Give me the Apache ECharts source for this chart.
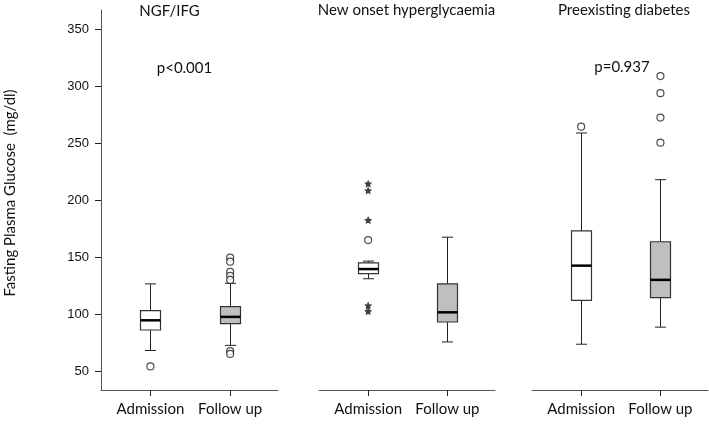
<!DOCTYPE html>
<html>
<head>
<meta charset="utf-8">
<script src="https://cdn.jsdelivr.net/npm/echarts@6/dist/echarts.min.js"></script>
<style>
html,body{margin:0;padding:0;background:#fff;}
#chart{width:709px;height:424px;}
</style>
</head>
<body>
<div id="chart"></div>
<script>
// ---- data ----
var categories = ['Admission', 'Follow up'];
var panelTitles = ['NGF/IFG', 'New onset hyperglycaemia', 'Preexisting diabetes'];
var pValues = ['p<0.001', '', 'p=0.937'];
var yTicks = [50, 100, 150, 200, 250, 300, 350];

// box stats: [lower whisker, Q1, median, Q3, upper whisker]
var ngfAdmission = [68, 86, 94.5, 103, 126.5];
var ngfFollowUp = [72.5, 91.5, 97.5, 106.5, 127];
var newAdmission = [131, 135.5, 139.5, 145, 146.5];
var newFollowUp = [75.5, 93, 101.5, 126.5, 167.5];
var preAdmission = [73.5, 112, 142.5, 173, 259];
var preFollowUp = [88.5, 114.5, 130, 163.5, 218];

// outliers (circles) and extremes (stars)
var ngfAdmissionOut = [54];
var ngfFollowUpOut = [149.5, 146, 137, 133.5, 130, 67.5, 65];
var newAdmissionOut = [165];
var newAdmissionExt = [214.5, 208.5, 182.5, 107.5, 102.5];
var newFollowUpOut = [];
var preAdmissionOut = [264.5];
var preFollowUpOut = [309, 294, 272.5, 250.5];

var panels = [
  {boxes: [ngfAdmission, ngfFollowUp], outs: [ngfAdmissionOut, ngfFollowUpOut], ext: [[], []]},
  {boxes: [newAdmission, newFollowUp], outs: [newAdmissionOut, newFollowUpOut], ext: [newAdmissionExt, []]},
  {boxes: [preAdmission, preFollowUp], outs: [preAdmissionOut, preFollowUpOut], ext: [[], []]}
];

// ---- layout ----
var gridBoxes = [
  {left: 101, top: 10, width: 177, height: 380},
  {left: 319, top: 10, width: 176, height: 380},
  {left: 532, top: 10, width: 176, height: 380}
];
var Y_MIN = 33.3, Y_MAX = 367;
var X_MIN = -0.62, X_MAX = 1.6;
var FONT = 'Lato';
var AXIS_COLOR = '#555';
var TICK_LEN = 6;

var star = 'path://M0,-10 L2.9,-4 9.5,-3.1 4.8,1.5 5.9,8.1 0,5 -5.9,8.1 -4.8,1.5 -9.5,-3.1 -2.9,-4 Z';

function renderBox(params, api) {
  var x = api.value(0);
  var lo = api.coord([x, api.value(1)]);
  var q1 = api.coord([x, api.value(2)]);
  var md = api.coord([x, api.value(3)]);
  var q3 = api.coord([x, api.value(4)]);
  var hi = api.coord([x, api.value(5)]);
  var gray = api.value(6) === 1;
  var bw = 20, cw = 11;
  var cx = Math.round(md[0]) + 0.5;
  var stroke = {stroke: '#222', lineWidth: 1};
  return {
    type: 'group',
    children: [
      {type: 'line', shape: {x1: cx, y1: hi[1], x2: cx, y2: q3[1]}, style: stroke},
      {type: 'line', shape: {x1: cx, y1: q1[1], x2: cx, y2: lo[1]}, style: stroke},
      {type: 'line', shape: {x1: cx - cw / 2, y1: hi[1], x2: cx + cw / 2, y2: hi[1]}, style: stroke},
      {type: 'line', shape: {x1: cx - cw / 2, y1: lo[1], x2: cx + cw / 2, y2: lo[1]}, style: stroke},
      {type: 'rect', shape: {x: cx - bw / 2, y: q3[1], width: bw, height: q1[1] - q3[1]},
        style: {fill: gray ? '#bfbfbf' : '#ffffff', stroke: '#333', lineWidth: 1.2}},
      {type: 'line', shape: {x1: cx - bw / 2, y1: md[1], x2: cx + bw / 2, y2: md[1]},
        style: {stroke: '#000', lineWidth: 2.5}}
    ]
  };
}

var grids = [], xAxes = [], yAxes = [], series = [];
panels.forEach(function (p, i) {
  grids.push(gridBoxes[i]);
  xAxes.push({
    type: 'value', gridIndex: i, min: X_MIN, max: X_MAX,
    axisLine: {show: true, onZero: false, lineStyle: {color: AXIS_COLOR, width: 1}},
    axisTick: {show: true, inside: false, customValues: [0, 1], length: TICK_LEN,
      lineStyle: {color: '#222', width: 1}},
    axisLabel: {show: true, customValues: [0, 1], margin: 12,
      formatter: function (v) { return categories[Math.round(v)]; },
      fontFamily: FONT, fontSize: 15, color: '#111'},
    splitLine: {show: false}
  });
  yAxes.push({
    type: 'value', gridIndex: i, min: Y_MIN, max: Y_MAX,
    show: i === 0,
    axisLine: {show: true, onZero: false, lineStyle: {color: AXIS_COLOR, width: 1}},
    axisTick: {show: true, inside: false, customValues: yTicks, length: TICK_LEN,
      lineStyle: {color: '#222', width: 1}},
    axisLabel: {show: true, customValues: yTicks, margin: 12,
      fontFamily: 'Liberation Sans', fontSize: 13, color: '#111'},
    splitLine: {show: false}
  });
  series.push({
    type: 'custom', xAxisIndex: i, yAxisIndex: i, clip: false,
    renderItem: renderBox,
    data: p.boxes.map(function (b, k) { return [k].concat(b).concat([k]); }),
    z: 2
  });
  var outData = [];
  p.outs.forEach(function (arr, k) { arr.forEach(function (v) { outData.push([k, v]); }); });
  series.push({
    type: 'scatter', xAxisIndex: i, yAxisIndex: i, data: outData,
    symbol: 'circle', symbolSize: 7,
    itemStyle: {color: '#fff', borderColor: '#222', borderWidth: 1.2}, z: 3
  });
  var extData = [];
  p.ext.forEach(function (arr, k) { arr.forEach(function (v) { extData.push([k, v]); }); });
  series.push({
    type: 'scatter', xAxisIndex: i, yAxisIndex: i, data: extData,
    symbol: star, symbolSize: 8,
    itemStyle: {color: '#111'}, z: 3
  });
});

var titlePos = [[169.5, 11], [406.5, 10], [624, 10]];
var pPos = [[184.5, 68], null, [622, 67]];
var graphics = [];
panelTitles.forEach(function (t, i) {
  graphics.push({type: 'text', x: titlePos[i][0], y: titlePos[i][1],
    style: {text: t, font: '15px ' + FONT, fill: '#111', textAlign: 'center', textVerticalAlign: 'middle'}});
  if (pValues[i]) {
    graphics.push({type: 'text', x: pPos[i][0], y: pPos[i][1],
      style: {text: pValues[i], font: '15px ' + FONT, fill: '#111', textAlign: 'center', textVerticalAlign: 'middle'}});
  }
});
graphics.push({type: 'text', x: 10, y: 193, rotation: Math.PI / 2,
  style: {text: 'Fasting Plasma Glucose  (mg/dl)', font: '15px ' + FONT, fill: '#111',
    textAlign: 'center', textVerticalAlign: 'middle'}});

var chart = echarts.init(document.getElementById('chart'), null, {renderer: 'canvas'});
chart.setOption({
  animation: false,
  backgroundColor: '#fff',
  grid: grids,
  xAxis: xAxes,
  yAxis: yAxes,
  series: series,
  graphic: graphics
});
</script>
</body>
</html>
